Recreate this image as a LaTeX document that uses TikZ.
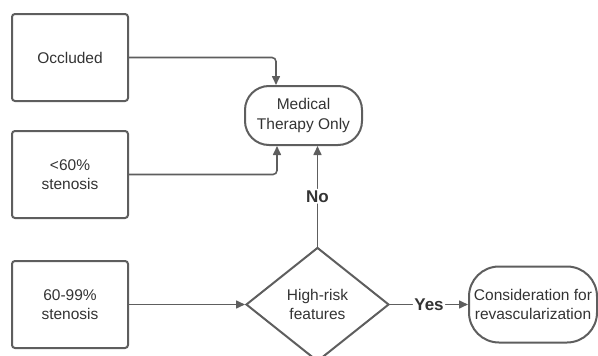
\documentclass[tikz,border=0pt]{standalone}
\usepackage{fontspec}
\setmainfont{Liberation Sans}
\usetikzlibrary{arrows.meta,positioning,shapes.geometric}
\definecolor{linegray}{HTML}{5E5E5E}
\definecolor{textgray}{HTML}{333333}

\begin{document}
\begin{tikzpicture}[x=1pt,y=-1pt,>={Triangle[length=9pt,width=8pt]},
  every node/.style={font=\fontsize{15.5}{19.5}\selectfont,text=textgray,align=center},
  box/.style={draw=linegray,line width=2pt,rounded corners=3pt,minimum width=116pt,minimum height=87pt},
  term/.style={draw=linegray,line width=2pt,rounded corners=24pt,inner sep=2pt},
  decision/.style={draw=linegray,line width=2pt,diamond,minimum width=143pt,minimum height=114pt,inner sep=0pt},
  link/.style={->,draw=linegray,line width=1.6pt,rounded corners=4pt},
  lbl/.style={fill=white,inner sep=1.5pt,font=\fontsize{17}{20}\selectfont\bfseries}]

                \useasboundingbox (0,0) rectangle (598,356);

                \node[box] (occl) at (70,57.5) {Occluded};
                \node[box] (lt60) [below=28pt of occl] {<60\%\\stenosis};
                \node[box] (mid) [below=41pt of lt60] {60-99\%\\stenosis};

                \node[term,minimum width=117pt,minimum height=59pt] (med) at (303.5,115.5) {Medical\\Therapy Only};
                \node[decision] (risk) [right=116pt of mid] {High-risk\\features};
                \node[term,rounded corners=30pt,minimum width=128pt,minimum height=76pt] (cons) [right=78pt of risk] {Consideration for\\revascularization};

                \draw[link] (occl.east) -| ([xshift=-27.5pt]med.north);
                \draw[link] (lt60.east) -| ([xshift=-26.5pt]med.south);
                \draw[link] (mid.east) -- (risk.west);
                \draw[link] (risk.north) -- (risk.north |- med.south) node[lbl,midway] {No};
                \draw[link] (risk.east) -- (cons.west) node[lbl,midway] {Yes};

            \end{tikzpicture}
\end{document}
